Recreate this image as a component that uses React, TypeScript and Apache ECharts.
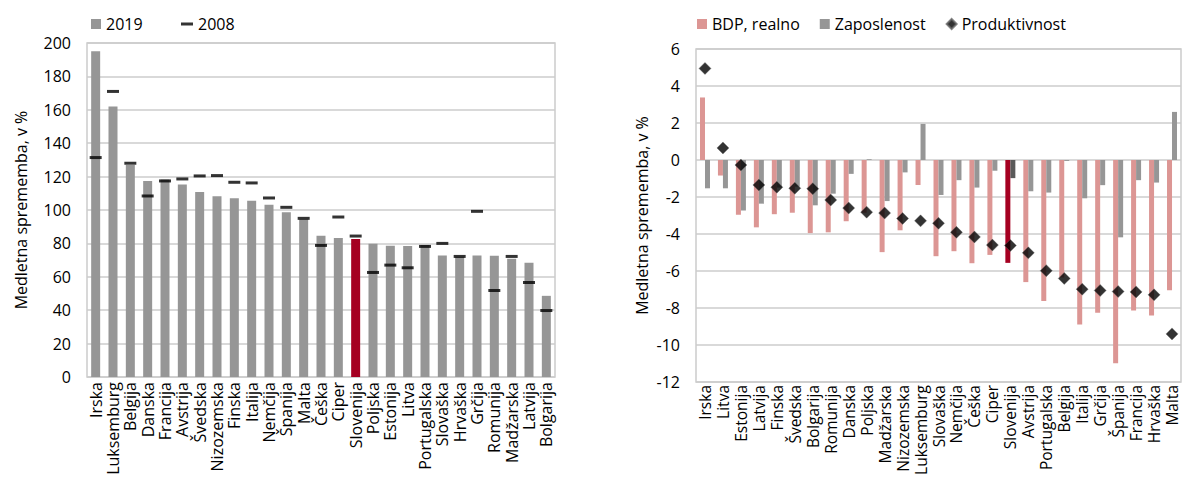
import React, { useEffect, useRef } from "react";
import * as echarts from "echarts";

const leftCategories = ["Irska","Luksemburg","Belgija","Danska","Francija","Avstrija","Švedska","Nizozemska","Finska","Italija","Nemčija","Španija","Malta","Češka","Ciper","Slovenija","Poljska","Estonija","Litva","Portugalska","Slovaška","Hrvaška","Grčija","Romunija","Madžarska","Latvija","Bolgarija"];
const values2019 = [195,162,127,117.4,118.2,115.2,110.8,108.2,107,105.6,103.2,98.6,94.4,84.6,83.2,82.6,79.8,78.6,78.4,79,72.8,72,72.8,72.6,70.8,68.4,48.6];
const values2008 = [131.4,171,128,108.4,117.4,118.6,120.4,120.6,116.6,116.2,107.2,101.6,95,78.8,95.8,84.4,62.6,67,65.4,78.2,80,72.2,99.2,51.8,72.2,56.6,39.8];
const leftTicks = { min: 0, max: 200, interval: 20 };

const rightCategories = ["Irska","Litva","Estonija","Latvija","Finska","Švedska","Bolgarija","Romunija","Danska","Poljska","Madžarska","Nizozemska","Luksemburg","Slovaška","Nemčija","Češka","Ciper","Slovenija","Avstrija","Portugalska","Belgija","Italija","Grčija","Španija","Francija","Hrvaška","Malta"];
const gdpValues = [3.38,-0.84,-2.96,-3.64,-2.93,-2.85,-3.95,-3.91,-3.31,-2.85,-4.98,-3.8,-1.35,-5.2,-4.93,-5.58,-5.13,-5.56,-6.6,-7.62,-6.35,-8.89,-8.25,-10.98,-8.13,-8.4,-7.04];
const empValues = [-1.53,-1.53,-2.73,-2.36,-1.49,-1.44,-2.45,-1.82,-0.75,0.04,-2.22,-0.67,1.95,-1.89,-1.09,-1.49,-0.58,-0.98,-1.69,-1.76,-0.05,-2.07,-1.36,-4.18,-1.09,-1.22,2.6];
const prodValues = [4.95,0.65,-0.27,-1.35,-1.47,-1.53,-1.55,-2.16,-2.6,-2.82,-2.87,-3.16,-3.29,-3.42,-3.91,-4.16,-4.6,-4.62,-5.02,-5.98,-6.4,-6.98,-7.05,-7.11,-7.13,-7.29,-9.4];
const rightTicks = { min: -12, max: 6, interval: 2 };

const HIGHLIGHT = "Slovenija";
const FONT = "Open Sans";
const GRAY = "#969696";
const PINK = "#dc9694";
const RED = "#a50021";
const DARKGRAY = "#5a5a5a";
const GRIDC = "#cccccc";

export default function App() {
  const ref = useRef<HTMLDivElement>(null);
  useEffect(() => {
    document.body.style.margin = "0";
    const chart = echarts.init(ref.current!, undefined, { renderer: "svg" });
    const txt = { color: "#000", fontFamily: FONT, fontSize: 16 };
    const catAxis = (gridIndex: number, data: string[], fontSize: number, margin: number) => ({
      type: "category",
      gridIndex,
      data,
      axisLine: { show: false, onZero: false },
      axisTick: { show: false },
      axisLabel: { ...txt, fontSize, rotate: 90, interval: 0, margin },
    });
    const valAxis = (gridIndex: number, t: any, nameGap: number) => ({
      type: "value",
      gridIndex,
      min: t.min,
      max: t.max,
      interval: t.interval,
      name: "Medletna sprememba, v %",
      nameLocation: "middle",
      nameGap,
      nameTextStyle: { ...txt },
      axisLine: { show: false },
      axisTick: { show: false },
      axisLabel: { ...txt, margin: 16 },
      splitLine: { lineStyle: { color: GRIDC, width: 1.5 } },
    });
    chart.setOption({
      animation: false,
      textStyle: { fontFamily: FONT },
      grid: [
        { left: 87, top: 43, width: 468, height: 334, show: true, borderColor: GRIDC, borderWidth: 1.5, containLabel: false, outerBoundsMode: "none" },
        { left: 696, top: 49, width: 485, height: 333, show: true, borderColor: GRIDC, borderWidth: 1.5, containLabel: false, outerBoundsMode: "none" },
      ],
      legend: [
        { left: 86, top: 11, itemWidth: 10, itemHeight: 10, textStyle: txt, data: [{ name: "2019", icon: "rect" }] },
        { left: 176, top: 11, itemWidth: 12, itemHeight: 3, textStyle: txt, data: [{ name: "2008", icon: "rect" }] },
        {
          left: 692, top: 11, itemWidth: 10, itemHeight: 10, itemGap: 20, textStyle: txt,
          data: [
            { name: "BDP, realno", icon: "rect" },
            { name: "Zaposlenost", icon: "rect" },
            { name: "Produktivnost", icon: "diamond" },
          ],
        },
      ],
      xAxis: [catAxis(0, leftCategories, 16, 5), catAxis(1, rightCategories, 15.5, 3)],
      yAxis: [valAxis(0, leftTicks, 58), valAxis(1, rightTicks, 46)],
      series: [
        {
          name: "2019",
          type: "bar",
          xAxisIndex: 0,
          yAxisIndex: 0,
          barWidth: 9,
          itemStyle: { color: GRAY },
          data: values2019.map((v, i) =>
            leftCategories[i] === HIGHLIGHT ? { value: v, itemStyle: { color: RED } } : v
          ),
        },
        {
          name: "2008",
          type: "scatter",
          xAxisIndex: 0,
          yAxisIndex: 0,
          symbol: "rect",
          symbolSize: [12, 3],
          itemStyle: { color: "#000" },
          z: 5,
          data: values2008,
        },
        {
          name: "BDP, realno",
          type: "bar",
          xAxisIndex: 1,
          yAxisIndex: 1,
          barWidth: 5,
          barGap: "0%",
          itemStyle: { color: PINK },
          data: gdpValues.map((v, i) =>
            rightCategories[i] === HIGHLIGHT ? { value: v, itemStyle: { color: RED } } : v
          ),
        },
        {
          name: "Zaposlenost",
          type: "bar",
          xAxisIndex: 1,
          yAxisIndex: 1,
          barWidth: 5,
          barGap: "0%",
          itemStyle: { color: GRAY },
          data: empValues.map((v, i) =>
            rightCategories[i] === HIGHLIGHT ? { value: v, itemStyle: { color: DARKGRAY } } : v
          ),
        },
        {
          name: "Produktivnost",
          type: "scatter",
          xAxisIndex: 1,
          yAxisIndex: 1,
          symbol: "diamond",
          symbolSize: 12,
          itemStyle: { color: "#000", borderColor: "#666", borderWidth: 0.5 },
          z: 5,
          data: prodValues,
        },
      ],
    });
    return () => chart.dispose();
  }, []);
  return <div ref={ref} style={{ width: 1183, height: 478 }} />;
}
